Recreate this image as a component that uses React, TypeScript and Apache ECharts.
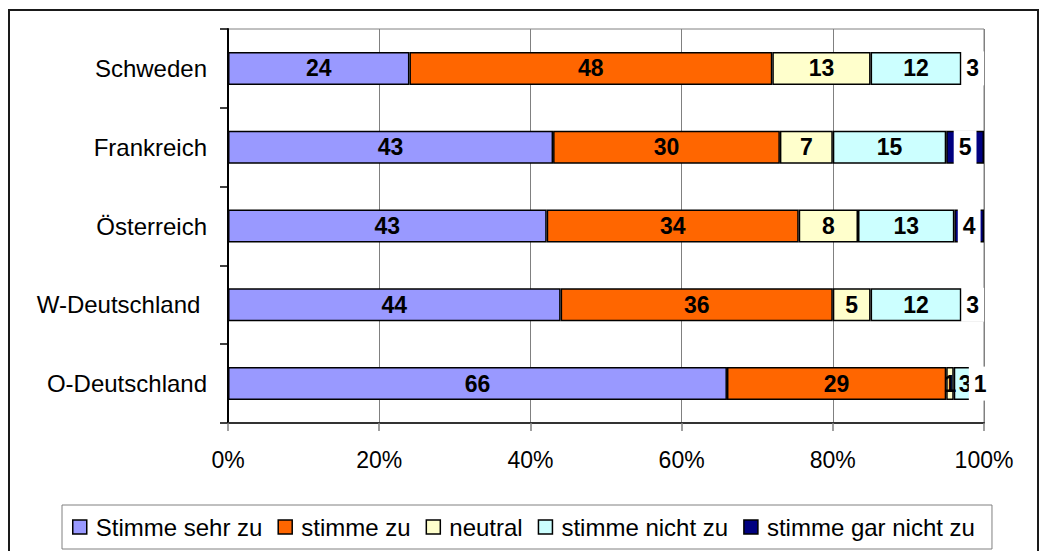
import React, { useEffect, useRef } from "react";
import * as echarts from "echarts";

const categories = ["Schweden", "Frankreich", "Österreich", "W-Deutschland ", "O-Deutschland"];
const seriesNames = ["Stimme sehr zu", "stimme zu", "neutral", "stimme nicht zu", "stimme gar nicht zu"];
const sehrZu = [24, 43, 43, 44, 66];
const zu = [48, 30, 34, 36, 29];
const neutral = [13, 7, 8, 5, 1];
const nichtZu = [12, 15, 13, 12, 3];
const garNichtZu = [3, 5, 4, 3, 1];
const colors = ["#9999FF", "#FF6600", "#FFFFCC", "#CCFFFF", "#000080"];

const FONT = "'Liberation Sans', Arial, Helvetica, sans-serif";

export default function App() {
  const ref = useRef<HTMLDivElement>(null);
  useEffect(() => {
    if (!ref.current) return;
    const chart = echarts.init(ref.current, null, { renderer: "svg" });
    const raw = [sehrZu, zu, neutral, nichtZu, garNichtZu];
    const totals = categories.map((_, i) => raw.reduce((s, arr) => s + arr[i], 0));
    const series = raw.map((arr, si) => {
      const isLast = si === raw.length - 1;
      return {
        name: seriesNames[si],
        type: "bar",
        stack: "total",
        barWidth: 33,
        data: arr.map((v, i) => ({ value: (v / totals[i]) * 100, raw: v })),
        itemStyle: { color: colors[si], borderColor: "#000", borderWidth: 1.5 },
        label: {
          show: true,
          position: "inside",
          formatter: (p: any) => String(p.data.raw),
          fontFamily: FONT,
          fontSize: 23,
          fontWeight: "bold",
          color: "#000",
          lineHeight: 24,
          ...(isLast ? { backgroundColor: "#fff", padding: [5, 5] } : {}),
        },
      };
    });
    chart.setOption({
      animation: false,
      textStyle: { fontFamily: FONT },
      graphic: [
        {
          type: "rect",
          shape: { x: 1, y: 2, width: 1029, height: 600 },
          style: { fill: "none", stroke: "#1a1a1a", lineWidth: 2 },
          silent: true,
        },
      ],
      grid: {
        left: 220,
        right: 55,
        top: 21,
        bottom: 128,
        show: true,
        borderColor: "#808080",
        borderWidth: 1,
        backgroundColor: "transparent",
      },
      legend: {
        left: 54,
        top: 497,
        padding: [10, 17, 10, 10],
        itemWidth: 14,
        itemHeight: 14,
        itemGap: 15,
        icon: "rect",
        borderColor: "#808080",
        borderWidth: 1,
        itemStyle: { borderColor: "#000", borderWidth: 1.5 },
        textStyle: { fontFamily: FONT, fontSize: 24, color: "#000", padding: [0, 0, 0, 4] },
        data: seriesNames,
      },
      xAxis: {
        type: "value",
        min: 0,
        max: 100,
        interval: 20,
        axisLine: { show: true, lineStyle: { color: "#333", width: 2 } },
        axisTick: { show: true, length: 8, lineStyle: { color: "#808080", width: 1.5 } },
        splitLine: { show: true, lineStyle: { color: "#808080", width: 1 } },
        axisLabel: {
          formatter: "{value}%",
          margin: 25,
          fontFamily: FONT,
          fontSize: 23,
          color: "#000",
        },
      },
      yAxis: {
        type: "category",
        inverse: true,
        data: categories,
        axisLine: { show: true, lineStyle: { color: "#000", width: 2 } },
        axisTick: { show: true, length: 8, lineStyle: { color: "#000", width: 1.5 } },
        splitLine: { show: false },
        axisLabel: { margin: 21, fontFamily: FONT, fontSize: 24, color: "#000" },
      },
      series,
    });
    return () => chart.dispose();
  }, []);
  return (
    <div
      ref={ref}
      style={{ position: "fixed", left: 8, top: 8, width: 1031, height: 543, background: "#fff" }}
    />
  );
}
